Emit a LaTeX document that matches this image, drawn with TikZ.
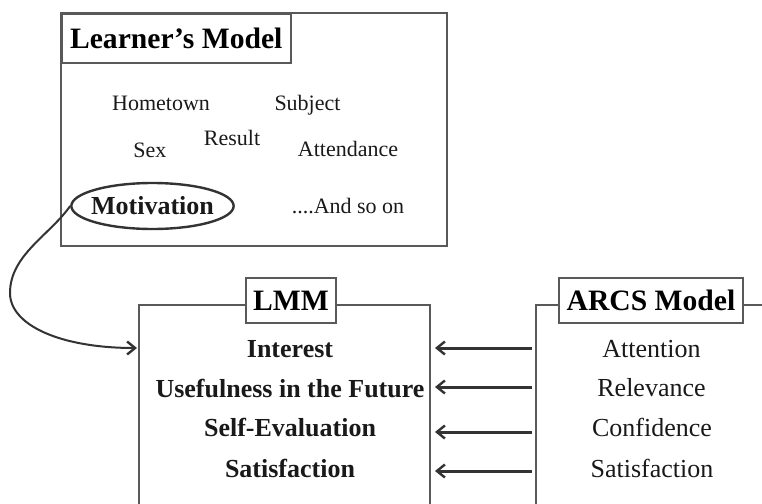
\documentclass[tikz,border=0pt]{standalone}
\usepackage{fontspec}
\setmainfont{Liberation Serif}
\usepackage{tikz}
\usetikzlibrary{positioning,shapes.geometric,arrows.meta}

\begin{document}
\begin{tikzpicture}[x=0.5pt, y=-0.5pt,
    every node/.style={inner sep=1pt},
    box/.style={draw=black!65, line width=0.75pt},
    titlebox/.style={draw=black!65, line width=0.75pt, fill=white, font=\fontsize{14.8}{16}\selectfont\bfseries},
    lmitem/.style={anchor=base, font=\fontsize{11}{13}\selectfont, text=black!90},
    lmmitem/.style={anchor=base, font=\fontsize{13}{15}\selectfont\bfseries, text=black!90},
    arcsitem/.style={anchor=base, font=\fontsize{13}{15}\selectfont, text=black!90},
    arr/.style={draw=black!80, line width=1.5pt, -{Straight Barb[length=4pt,width=6.5pt,line width=1.2pt]}}]
  \useasboundingbox (0,0) rectangle (762,504);
  \clip (0,0) rectangle (762,504);
  % Learner's model
  \draw[box] (61,13) rectangle (447,246);
  \node[titlebox, anchor=north west, minimum width=114.5pt, minimum height=24.5pt] (lmtitle) at (61,13) {Learner's Model};
  \node[lmitem] (home) at (161,110) {Hometown};
  \node[lmitem] (subj) at (307.5,110) {Subject};
  \node[lmitem] (res) at (232,145) {Result};
  \node[lmitem] (sex) at (150,157) {Sex};
  \node[lmitem] (att) at (348,156) {Attendance};
  \node[lmitem] (more) at (348,213) {....And so on};
  \node[draw=black!80, line width=1.2pt, ellipse, inner xsep=-2pt, inner ysep=0pt, minimum width=80.5pt, minimum height=23pt,
        font=\fontsize{13}{15}\selectfont\bfseries, text=black!90] (mot) at (152.5,206) {Motivation};
  % LMM
  \draw[box] (139,520) -- (139,305) -- (430,305) -- (430,520);
  \node[titlebox, minimum width=45pt, minimum height=22.5pt] (lmm) at (291,300.5) {LMM};
  \node[lmmitem] (int) at (290,357) {Interest};
  \node[lmmitem] (use) at (290,397) {Usefulness in the Future};
  \node[lmmitem] (self) at (290,436) {Self-Evaluation};
  \node[lmmitem] (sat) at (290,477) {Satisfaction};
  % ARCS model
  \draw[box] (536,520) -- (536,305) -- (770,305);
  \node[titlebox, minimum width=92pt, minimum height=22.5pt] (arcs) at (651,300.5) {ARCS Model};
  \node[arcsitem] (attn) at (651.5,357) {Attention};
  \node[arcsitem] (rel) at (651.5,396) {Relevance};
  \node[arcsitem] (conf) at (652,436) {Confidence};
  \node[arcsitem] (satis) at (652,477) {Satisfaction};
  % Arrows from ARCS to LMM
  \coordinate (a1) at (532,348); \coordinate (b1) at (435,348);
  \coordinate (a2) at (532,387); \coordinate (b2) at (435,387);
  \coordinate (a3) at (532,432); \coordinate (b3) at (435,432);
  \coordinate (a4) at (532,471); \coordinate (b4) at (435,471);
  \draw[arr] (a1) -- (b1);
  \draw[arr] (a2) -- (b2);
  \draw[arr] (a3) -- (b3);
  \draw[arr] (a4) -- (b4);
  % Motivation feeds the LMM
  \coordinate (lmmin) at (137,348);
  \draw[arr, line width=1pt] (mot.west) .. controls (50,235) and (10,255) .. (10,293)
    .. controls (10,325) and (60,348) .. (lmmin);
\end{tikzpicture}
\end{document}
